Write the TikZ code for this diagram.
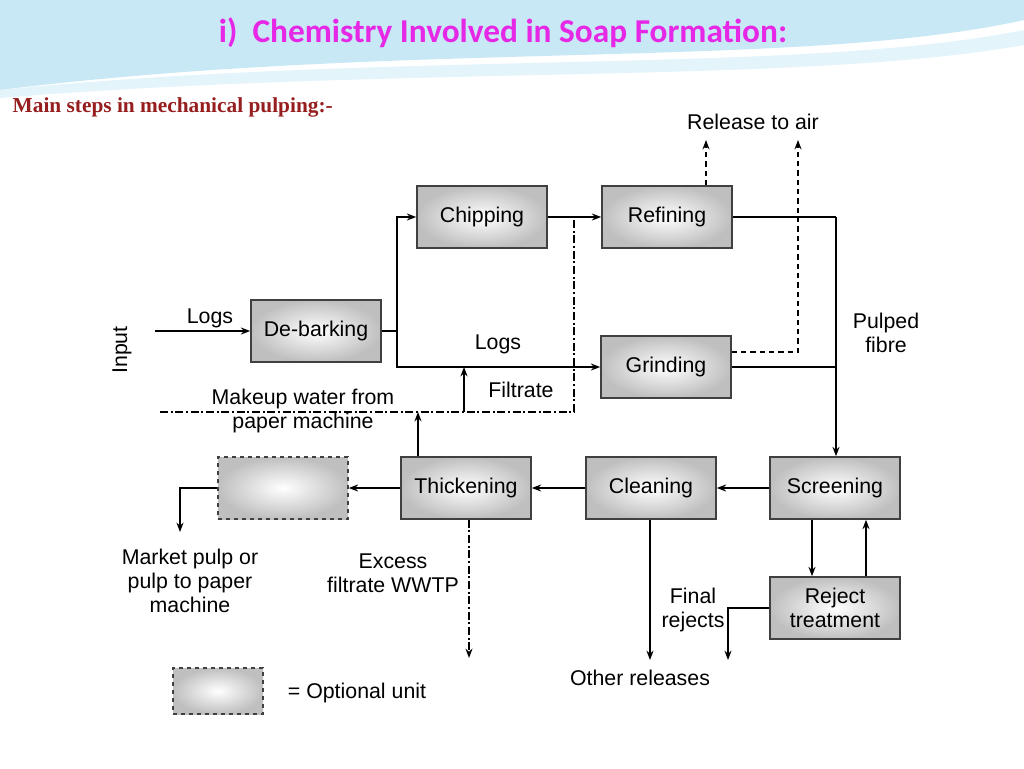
\documentclass[tikz,border=0pt]{standalone}
\usepackage{fontspec}
\setmainfont{Liberation Sans}
\newfontfamily\ttlfont{Carlito}
\newfontfamily\subfont{Liberation Serif}
\usetikzlibrary{arrows.meta}
\definecolor{ttlpink}{RGB}{230,40,230}
\definecolor{subred}{RGB}{150,30,30}
\definecolor{wave}{RGB}{200,232,245}
\tikzset{
  unit/.style={draw=black!75,line width=1.2pt,minimum width=97.5pt,minimum height=46.5pt,
    inner color=white,outer color=black!25,font=\fontsize{16}{18}\selectfont},
  opt/.style={unit,dashed},
  lbl/.style={font=\fontsize{16}{18}\selectfont,align=center},
  flow/.style={line width=1.2pt,-{Stealth[length=7pt]}},
  air/.style={flow,dash pattern=on 4pt off 3pt},
  water/.style={line width=1.2pt,dash pattern=on 6pt off 2pt on 1.5pt off 2pt}
}
\begin{document}
\begin{tikzpicture}[x=0.75pt,y=-0.75pt]
\useasboundingbox (0,0) rectangle (1024,768);
% header
\fill[wave] (0,0) -- (1024,0) -- (1024,20) .. controls (800,70) and (400,40) .. (0,90) -- cycle;
\fill[wave!50] (0,90) .. controls (400,50) and (800,75) .. (1024,30) -- (1024,45) .. controls (800,85) and (400,65) .. (0,98) -- cycle;
\node[font=\ttlfont\bfseries\fontsize{25}{30}\selectfont,text=ttlpink] (ttl) at (503,33) {i)\ \ Chemistry Involved in Soap Formation:};
\node[anchor=west,font=\subfont\bfseries\fontsize{16}{19}\selectfont,text=subred] (sub) at (8,107) {Main steps in mechanical pulping:-};
% units
\node[unit] (chip) at (482,217) {Chipping};
\node[unit] (refi) at (667,217) {Refining};
\node[unit] (deba) at (316,331) {De-barking};
\node[unit] (grin) at (666,367) {Grinding};
\node[unit] (thic) at (466,488) {Thickening};
\node[unit] (clea) at (651,488) {Cleaning};
\node[unit] (scre) at (835,488) {Screening};
\node[unit,align=center] (reje) at (835,608) {Reject\\treatment};
\node[opt] (optu) at (283,488) {};
\node[opt,minimum width=67.5pt,minimum height=34.5pt] (legd) at (218,691) {};
% labels
\node[lbl,rotate=90] (inpu) at (122,350) {Input};
\node[lbl] (logs1) at (210,318) {Logs};
\node[lbl] (logs2) at (498,344) {Logs};
\node[lbl] (rela) at (753,122) {Release to air};
\node[lbl] (pulp) at (886,333) {Pulped\\fibre};
\node[lbl] (make) at (303,411) {Makeup water from\\paper machine};
\node[lbl] (filt) at (521,390) {Filtrate};
\node[lbl] (mark) at (190,581) {Market pulp or\\pulp to paper\\machine};
\node[lbl] (exce) at (393,573) {Excess\\filtrate WWTP};
\node[lbl] (fina) at (693,610) {Final\\rejects};
\node[lbl] (othe) at (640,678) {Other releases};
\node[lbl] (legt) at (357,693) {= Optional unit};
% coordinates
\coordinate (in) at (155,331);
\coordinate (sp) at (397,331);
\coordinate (a1) at (706,140);
\coordinate (a2) at (798,140);
\coordinate (pf) at (836,217);
\coordinate (w1) at (160,412);
\coordinate (w2) at (574,412);
\coordinate (w3) at (574,220);
\coordinate (fi) at (464,412);
\coordinate (mk) at (180,532);
\coordinate (ex) at (469,658);
\coordinate (ot) at (650,660);
\coordinate (fr) at (728,660);
% connectors
\draw[flow] (in) -- (deba.west);
\draw[line width=1.2pt] (deba.east) -- (sp);
\draw[flow] (sp) |- (chip.west);
\draw[flow] (sp) |- (grin.west);
\draw[flow] (chip) -- (refi);
\draw[air] (refi.north -| a1) -- (a1);
\draw[air] (grin.east |- 0,352) -| (a2);
\draw[line width=1.2pt] (refi.east) -- (pf);
\draw[line width=1.2pt] (grin.east) -| (pf);
\draw[flow] (pf) -- (scre.north -| pf);
\draw[water] (w1) -- (w2) -- (w3);
\draw[flow] (fi) -- (fi |- grin.west);
\draw[flow] (thic.north -| 418,0) -- (418,412);
\draw[flow] (scre) -- (clea);
\draw[flow] (clea) -- (thic);
\draw[flow] (thic) -- (optu);
\draw[flow] (optu.west) -| (mk);
\draw[air,dash pattern=on 6pt off 2pt on 1.5pt off 2pt] (thic.south -| ex) -- (ex);
\draw[flow] (clea.south -| ot) -- (ot);
\draw[flow] (scre.south -| 812,0) -- (reje.north -| 812,0);
\draw[flow] (reje.north -| 866,0) -- (scre.south -| 866,0);
\draw[flow] (reje.west) -| (fr);
\end{tikzpicture}
\end{document}
